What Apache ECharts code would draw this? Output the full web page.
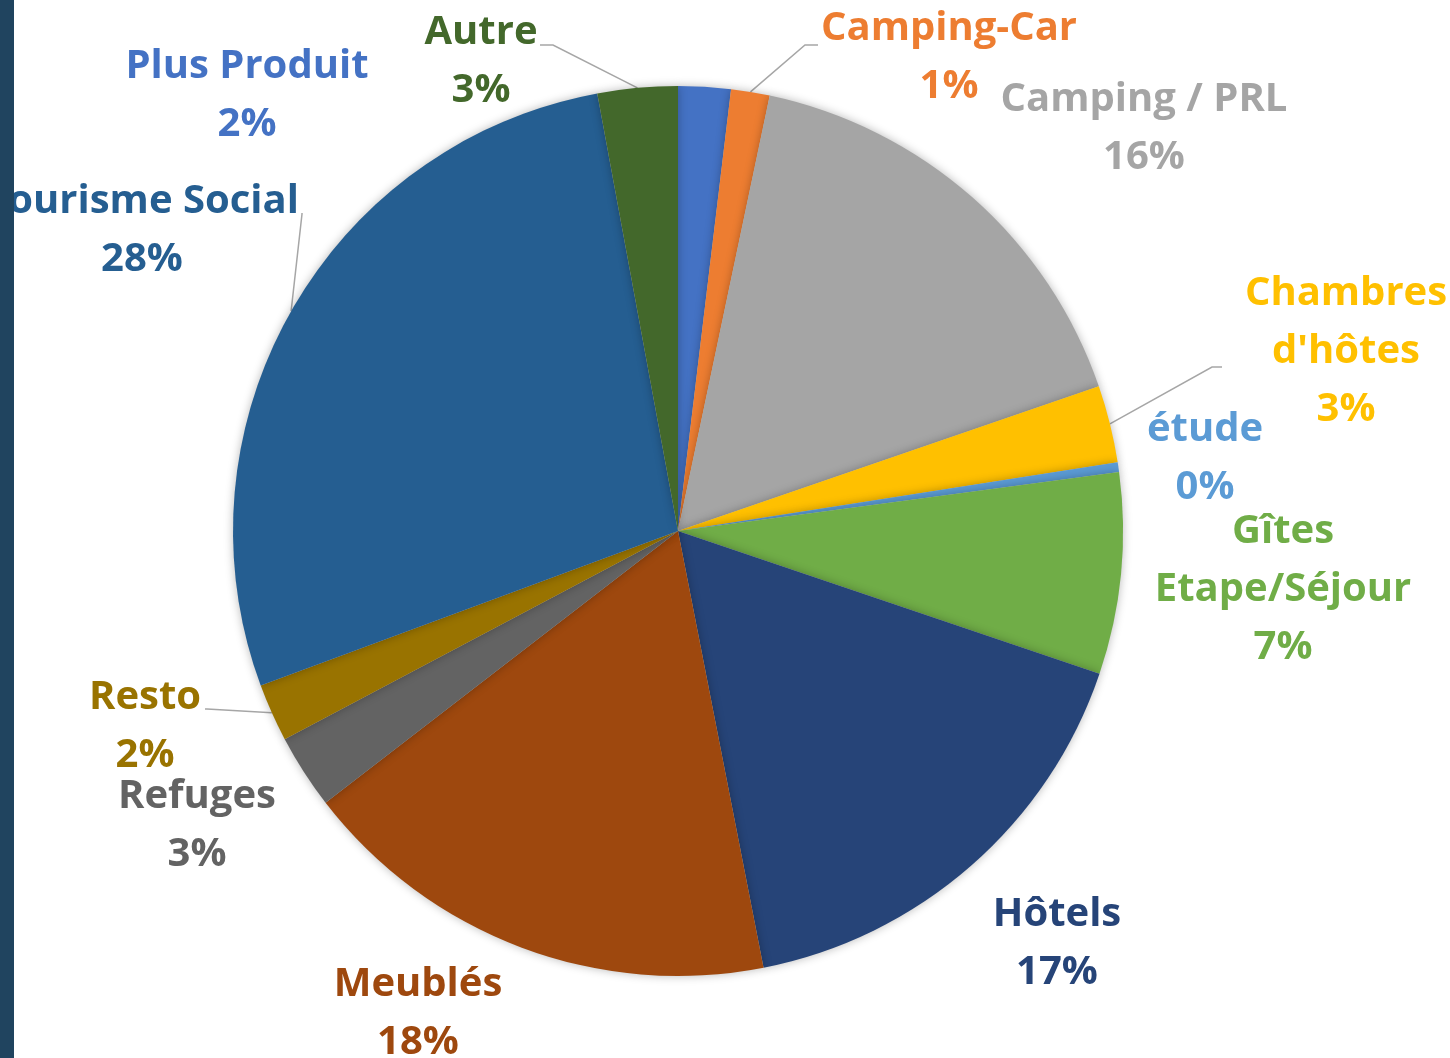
<!DOCTYPE html>
<html>
<head>
<meta charset="utf-8">
<script src="https://cdn.jsdelivr.net/npm/echarts@6/dist/echarts.min.js"></script>
<style>
  html, body { margin: 0; padding: 0; background: #fff; }
  #chart { width: 1450px; height: 1058px; }
</style>
</head>
<body>
<div id="chart"></div>
<script>
// parts, clockwise from 12 o'clock
const categories = ['Plus Produit', 'Camping-Car', 'Camping / PRL', 'Chambres\nd\'hôtes', 'étude',
  'Gîtes\nEtape/Séjour', 'Hôtels', 'Meublés', 'Refuges', 'Resto', 'Tourisme Social', 'Autre']
const shares = [1.9, 1.4, 16.4, 2.8, 0.35, 7.3, 16.7, 17.6, 2.7, 2.1, 27.7, 2.9]
const colors = ['#4472C4', '#ED7D31', '#A5A5A5', '#FFC000', '#5B9BD5', '#70AD47',
  '#264478', '#9E480E', '#636363', '#997300', '#255E91', '#43682B']

// where each label block sits (center) and the bend/end of its leader line, if any
const labelSpots = [[247, 96], [949, 58], [1144, 129], [1346, 352], [1205, 459], [1283, 590],
  [1057, 944], [418, 1014], [197, 826], [145, 727], [142, 231], [481, 62]]
const leaders = [null, [[805, 45], [818, 45]], null, [[1212, 367], [1222, 367]], null, null,
  null, null, null, [[207, 709], [205, 709]], [[302, 214], [302, 213]], [[553, 45], [540, 45]]]

let chart = echarts.init(document.getElementById('chart'))

let data = categories.map((name, i) => ({
  name: name,
  value: shares[i],
  itemStyle: { color: colors[i] },
  label: { color: colors[i] },
  labelLine: { show: leaders[i] !== null }
}))

let option = {
  animation: false,
  backgroundColor: '#fff',
  graphic: [{
    type: 'rect',
    z: 100,
    shape: { x: 0, y: 0, width: 14, height: 1058 },
    style: { fill: '#20445f' }
  }],
  series: [{
    type: 'pie',
    center: [678, 531],
    radius: 445,
    startAngle: 90,
    percentPrecision: 0,
    bleedMargin: -400,
    itemStyle: {
      borderWidth: 0,
      shadowBlur: 10,
      shadowColor: 'rgba(0,0,0,0.28)'
    },
    label: {
      show: true,
      position: 'outside',
      formatter: '{b}\n{d}%',
      fontFamily: 'Open Sans',
      fontWeight: 'bold',
      fontSize: 40,
      lineHeight: 58,
      overflow: 'none'
    },
    labelLine: {
      lineStyle: { color: '#A6A6A6', width: 1.5 }
    },
    labelLayout: function (params) {
      let i = params.dataIndex
      let spot = labelSpots[i]
      let res = { x: spot[0], y: spot[1], align: 'center', verticalAlign: 'middle' }
      if (leaders[i] && params.labelLinePoints) {
        res.labelLinePoints = [params.labelLinePoints[0], leaders[i][0], leaders[i][1]]
      }
      return res
    },
    data: data
  }]
}

chart.setOption(option)
</script>
</body>
</html>
